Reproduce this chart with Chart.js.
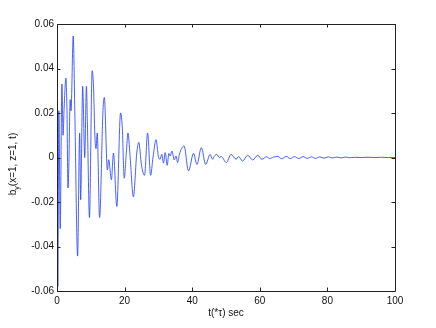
<!DOCTYPE html>
<html>
<head>
<meta charset="utf-8">
<script src="https://cdn.jsdelivr.net/npm/chart.js@4/dist/chart.umd.min.js"></script>
<style>
  html, body { margin: 0; padding: 0; background: #fff; }
  canvas { display: block; }
</style>
</head>
<body>
<canvas id="myChart" width="436" height="328"></canvas>
<script>
// time samples (sec) and b_y values
const times = [
  0.0, 0.25, 0.55, 0.95, 1.45, 1.8, 2.1, 2.65, 2.95, 3.25, 3.5, 3.9, 4.15, 4.8, 5.3,
  6.1, 6.7, 7.0, 7.6, 8.2, 8.7, 9.0, 9.6, 10.4, 10.8, 11.2, 11.55, 11.9, 12.6,
  13.6, 14.0, 14.9, 15.3, 16.1, 16.7, 17.7, 18.8, 19.3, 19.9, 20.5, 21.0, 21.6,
  22.6, 23.6, 24.2, 25.0, 25.9, 26.8, 27.7, 28.4, 29.3, 30.0, 30.5, 31.0, 31.5,
  32.0, 32.6, 33.1, 33.5, 34.0, 34.7, 35.2, 35.7, 36.2, 37.6, 38.9, 40.4, 41.4,
  42.7, 44.0, 45.3, 46.0, 46.6, 47.3, 48.0, 48.6, 50.1, 51.5, 53.0, 53.7, 54.9,
  56.4, 57.9, 59.4, 60.6, 62.1, 62.8, 64.1, 65.3, 66.5, 67.8, 69.0, 70.3, 71.5,
  72.8, 74.0, 75.3, 76.5, 77.8, 79.0, 80.3, 81.5, 82.8, 84.0, 85.3, 86.5, 88.0,
  90.0, 92.0, 94.0, 96.0, 98.0, 100.0
];
const byValues = [
  0.020, -0.058, 0.021, -0.032, 0.033, 0.010, 0.022, 0.0357, 0.021, -0.0137, -0.004, 0.026, 0.021, 0.0546, 0.018,
  -0.0443, 0.011, -0.019, 0.032, 0.000, 0.032, 0.015, -0.027, 0.039, 0.032, 0.010, 0.004, 0.011, -0.027,
  0.021, 0.027, -0.0056, -0.001, -0.010, 0.002, -0.022, 0.020, 0.014, -0.0093, 0.002, 0.011, 0.001,
  -0.0177, 0.002, 0.0068, -0.0035, -0.008, 0.011, -0.008, 0.000, 0.008, 0.0005, -0.0008, 0.0014, -0.0025,
  0.0022, -0.0035, 0.0018, 0.0007, 0.0029, -0.0011, 0.0007, -0.0023, 0.0014, 0.0052, -0.006, 0.0019, -0.0031,
  0.0044, -0.0031, 0.0014, -0.0008, 0.0007, 0.0014, 0.0000, 0.0004, -0.0023, 0.0014, -0.0008, 0.0004, -0.0016,
  0.0010, -0.0011, 0.0010, -0.0008, 0.0004, -0.0005, 0.0002, 0.0005, -0.0006, 0.0005, -0.0005, 0.0004, -0.0005,
  0.0004, -0.0004, 0.0003, -0.0004, 0.0003, -0.0003, 0.0003, -0.0002, 0.0002, -0.0002, 0.0002, -0.0001, 0.0001,
  0.0000, 0.0001, 0.0000, 0.0001, 0.0000, 0.0000
];
const xTicks = [0, 20, 40, 60, 80, 100];
const yTicks = [-0.06, -0.04, -0.02, 0, 0.02, 0.04, 0.06];

const FONT = '"Liberation Sans", Arial, sans-serif';

// matlab style box with inward ticks + axis labels
const matlabAxes = {
  id: 'matlabAxes',
  afterDraw(chart) {
    const ctx = chart.ctx;
    const a = chart.chartArea;
    const xs = chart.scales.x;
    const ys = chart.scales.y;
    const tl = 3.5;
    ctx.save();
    ctx.strokeStyle = '#222';
    ctx.lineWidth = 1;
    ctx.beginPath();
    ctx.rect(Math.round(a.left) + 0.5, Math.round(a.top) + 0.5,
      Math.round(a.right - a.left), Math.round(a.bottom - a.top));
    xTicks.forEach((t) => {
      const px = Math.round(xs.getPixelForValue(t)) + 0.5;
      ctx.moveTo(px, a.bottom); ctx.lineTo(px, a.bottom - tl);
      ctx.moveTo(px, a.top); ctx.lineTo(px, a.top + tl);
    });
    yTicks.forEach((v) => {
      const py = Math.round(ys.getPixelForValue(v)) + 0.5;
      ctx.moveTo(a.left, py); ctx.lineTo(a.left + tl, py);
      ctx.moveTo(a.right, py); ctx.lineTo(a.right - tl, py);
    });
    ctx.stroke();

    ctx.fillStyle = '#111';
    // x label
    ctx.font = '10px ' + FONT;
    ctx.textAlign = 'center';
    ctx.textBaseline = 'middle';
    ctx.fillText('t(*\u03c4) sec', (a.left + a.right) / 2, 313);

    // y label with subscript
    ctx.translate(16, 164);
    ctx.rotate(-Math.PI / 2);
    ctx.textAlign = 'left';
    ctx.textBaseline = 'alphabetic';
    const big = '10px ' + FONT, small = '7px ' + FONT;
    ctx.font = big; const w1 = ctx.measureText('b').width;
    ctx.font = small; const w2 = ctx.measureText('y').width;
    ctx.font = big; const w3 = ctx.measureText('(x=1, z=1, t)').width;
    let x0 = -(w1 + w2 + w3) / 2;
    ctx.font = big; ctx.fillText('b', x0, 0);
    ctx.font = small; ctx.fillText('y', x0 + w1, 2.5);
    ctx.font = big; ctx.fillText('(x=1, z=1, t)', x0 + w1 + w2, 0);
    ctx.restore();
  }
};

const ctx = document.getElementById('myChart');
const myLineChart = new Chart(ctx, {
  type: 'line',
  data: {
    datasets: [{
      data: times.map((t, i) => ({ x: t, y: byValues[i] })),
      borderColor: 'rgb(40, 70, 255)',
      borderWidth: 0.85,
      pointRadius: 0,
      fill: false,
      cubicInterpolationMode: 'monotone'
    }]
  },
  options: {
    responsive: false,
    animation: false,
    devicePixelRatio: 1,
    layout: { padding: { top: 24, right: 41, left: 0, bottom: 0 } },
    plugins: { legend: { display: false }, tooltip: { enabled: false } },
    scales: {
      x: {
        type: 'linear',
        min: 0, max: 100,
        afterFit: (s) => { s.height = 37; },
        afterBuildTicks: (s) => { s.ticks = xTicks.map((v) => ({ value: v })); },
        grid: { display: false, drawTicks: false },
        border: { display: false },
        ticks: { padding: 4, color: '#111', font: { family: FONT, size: 10 }, maxRotation: 0, autoSkip: false }
      },
      y: {
        min: -0.06, max: 0.06,
        afterFit: (s) => { s.width = 57; },
        afterBuildTicks: (s) => { s.ticks = yTicks.map((v) => ({ value: v })); },
        grid: { display: false, drawTicks: false },
        border: { display: false },
        ticks: {
          padding: 3, color: '#111', font: { family: FONT, size: 10 }, autoSkip: false,
          callback: (v) => (Math.abs(v) < 1e-9 ? '0' : v.toFixed(2))
        }
      }
    }
  },
  plugins: [matlabAxes]
});
</script>
</body>
</html>
